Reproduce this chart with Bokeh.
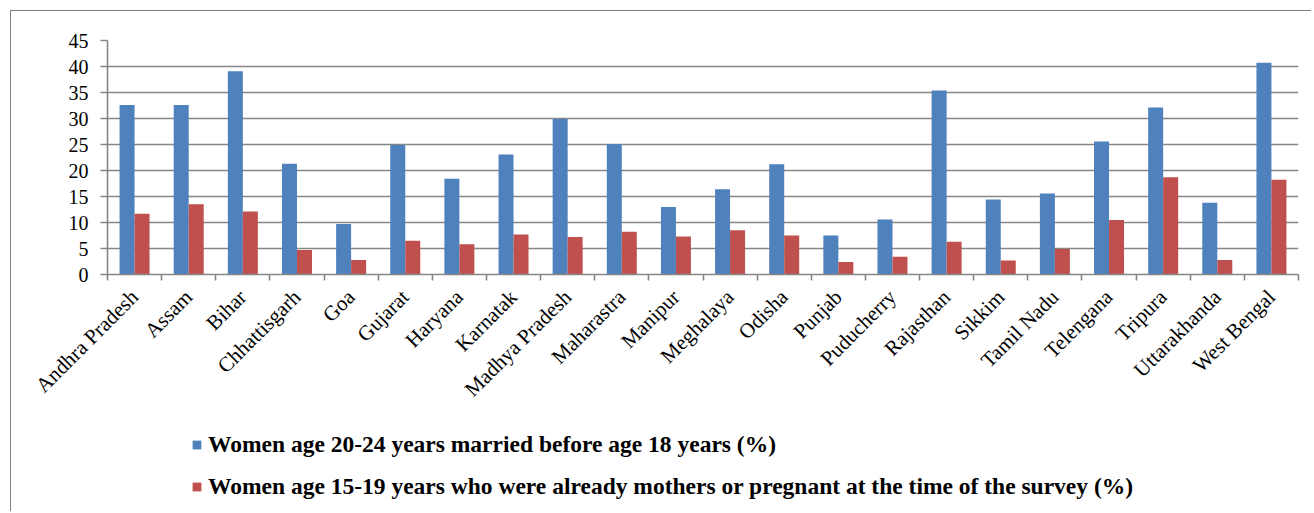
import math
from bokeh.plotting import figure
from bokeh.layouts import column
from bokeh.models import FixedTicker, Legend, LegendItem, Range1d, ColumnDataSource
from bokeh.transform import dodge
from bokeh.embed import file_html
from bokeh.resources import INLINE

states = ["Andhra Pradesh", "Assam", "Bihar", "Chhattisgarh", "Goa", "Gujarat",
          "Haryana", "Karnatak", "Madhya Pradesh", "Maharastra", "Manipur",
          "Meghalaya", "Odisha", "Punjab", "Puducherry", "Rajasthan", "Sikkim",
          "Tamil Nadu", "Telengana", "Tripura", "Uttarakhanda", "West Bengal"]
married_before_18 = [32.6, 32.6, 39.1, 21.3, 9.7, 24.9, 18.4, 23.1, 29.9, 25.1, 13.0,
                     16.4, 21.2, 7.5, 10.6, 35.4, 14.4, 15.6, 25.6, 32.1, 13.8, 40.7]
mothers_or_pregnant = [11.7, 13.5, 12.1, 4.7, 2.8, 6.5, 5.8, 7.7, 7.2, 8.2, 7.3,
                       8.5, 7.5, 2.4, 3.4, 6.3, 2.7, 4.9, 10.5, 18.7, 2.8, 18.2]
y_ticks = [0, 5, 10, 15, 20, 25, 30, 35, 40, 45]
series_names = ["Women age 20-24 years married before age 18 years (%)",
                "Women age 15-19 years who were already mothers or pregnant at the time of the survey (%)"]
series_colors = ["#4F81BD", "#C0504D"]

n = len(states)
centers = [i + 0.5 for i in range(n)]
source = ColumnDataSource(dict(x=centers, a=married_before_18, b=mothers_or_pregnant))

GRID = "#868686"
FONT = "Liberation Serif"

p = figure(width=1300, height=409, output_backend="svg", toolbar_location=None,
           x_range=Range1d(0, n), y_range=Range1d(0, y_ticks[-1]),
           min_border_left=96, min_border_top=29, min_border_right=13, min_border_bottom=146,
           outline_line_color=None)

bw = 0.277
r1 = p.vbar(x=dodge("x", -bw / 2, range=p.x_range), top="a", width=bw, source=source,
            fill_color=series_colors[0], line_color=None)
r2 = p.vbar(x=dodge("x", bw / 2, range=p.x_range), top="b", width=bw, source=source,
            fill_color=series_colors[1], line_color=None)

p.xgrid.grid_line_color = None
p.ygrid.grid_line_color = GRID
p.ygrid.grid_line_width = 1.6
p.ygrid.ticker = FixedTicker(ticks=y_ticks)

ya = p.yaxis[0]
ya.ticker = FixedTicker(ticks=y_ticks)
ya.axis_line_color = GRID
ya.axis_line_width = 1.6
ya.major_tick_line_color = GRID
ya.major_tick_line_width = 1.6
ya.major_tick_out = 7
ya.major_tick_in = 0
ya.minor_tick_line_color = None
ya.major_label_standoff = 12
ya.major_label_text_font = FONT
ya.major_label_text_font_size = "20px"
ya.major_label_text_color = "black"

xa = p.xaxis[0]
xa.ticker = FixedTicker(ticks=centers, minor_ticks=list(range(n + 1)))
xa.major_label_overrides = {c: s for c, s in zip(centers, states)}
xa.axis_line_color = GRID
xa.axis_line_width = 1.6
xa.major_tick_line_color = None
xa.major_tick_out = 0
xa.major_tick_in = 0
xa.minor_tick_line_color = GRID
xa.minor_tick_line_width = 1.6
xa.minor_tick_out = 6
xa.minor_tick_in = 0
xa.major_label_orientation = math.pi / 4
xa.major_label_standoff = 13
xa.major_label_text_font = FONT
xa.major_label_text_font_size = "21px"
xa.major_label_text_color = "black"

# legend strip below the chart (its renderers are hidden; only the legend shows)
p2 = figure(width=1300, height=91, output_backend="svg", toolbar_location=None,
            x_range=Range1d(0, n), y_range=Range1d(0, y_ticks[-1]),
            x_axis_type=None, y_axis_type=None, outline_line_color=None,
            min_border_left=0, min_border_right=0, min_border_top=0, min_border_bottom=0)
p2.xgrid.grid_line_color = None
p2.ygrid.grid_line_color = None
k1 = p2.vbar(x="x", top="a", width=bw, source=source, fill_color=series_colors[0],
             line_color=None, visible=False)
k2 = p2.vbar(x="x", top="b", width=bw, source=source, fill_color=series_colors[1],
             line_color=None, visible=False)

legend = Legend(items=[LegendItem(label=series_names[0], renderers=[k1]),
                       LegendItem(label=series_names[1], renderers=[k2])],
                location=(84, 11), orientation="vertical",
                glyph_width=11, glyph_height=11, label_standoff=6, spacing=15,
                padding=0, margin=0, border_line_color=None, background_fill_alpha=0,
                inactive_fill_alpha=0,
                label_text_font=FONT, label_text_font_style="bold",
                label_text_font_size="23.5px", label_text_color="black")
p2.add_layout(legend)

layout = column(p, p2, margin=(10, 0, 0, 10),
                styles={"border-left": "1px solid #7f7f7f", "border-top": "1px solid #7f7f7f"})

open("out.html", "w").write(file_html(layout, INLINE))
